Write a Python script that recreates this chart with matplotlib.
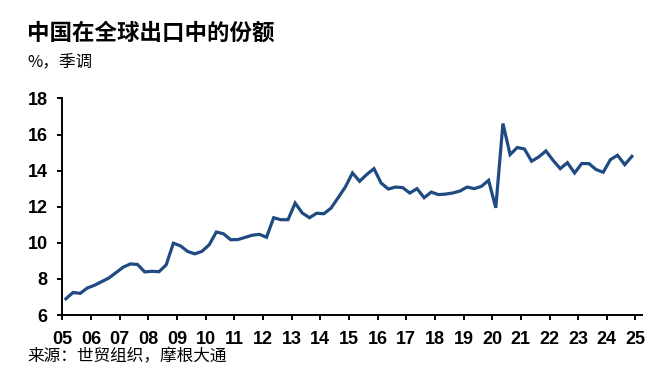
import matplotlib
matplotlib.use("Agg")
import matplotlib.pyplot as plt
import numpy as np

plt.rcParams['font.family'] = ['Noto Sans CJK SC', 'DejaVu Sans']

# quarterly share, 2005Q1 .. 2024Q4
share = [6.90, 7.25, 7.20, 7.50, 7.65, 7.85, 8.05, 8.35,
         8.65, 8.83, 8.80, 8.39, 8.42, 8.40, 8.78, 9.98,
         9.83, 9.52, 9.39, 9.53, 9.89, 10.60, 10.50, 10.17,
         10.18, 10.30, 10.42, 10.47, 10.31, 11.39, 11.28, 11.28,
         12.20, 11.65, 11.39, 11.64, 11.61, 11.92, 12.50, 13.09,
         13.87, 13.41, 13.79, 14.11, 13.31, 12.98, 13.09, 13.06,
         12.76, 13.00, 12.50, 12.81, 12.67, 12.70, 12.76, 12.87,
         13.09, 13.00, 13.13, 13.46, 11.94, 16.61, 14.89, 15.28,
         15.20, 14.52, 14.76, 15.09, 14.57, 14.11, 14.44, 13.87,
         14.39, 14.39, 14.06, 13.91, 14.61, 14.85, 14.33, 14.79]
start_year = 2005
year_labels = ["05", "06", "07", "08", "09", "10", "11", "12", "13", "14",
               "15", "16", "17", "18", "19", "20", "21", "22", "23", "24", "25"]
y_ticks = [6, 8, 10, 12, 14, 16, 18]

fig = plt.figure(figsize=(6.6, 3.8), dpi=100)
ax = fig.add_axes([0.0944, 0.171, 0.878, 0.570])

t = start_year + (np.arange(len(share)) + 0.5) / 4
ax.plot(t, share, color='#1f4a82', lw=2.3, solid_joinstyle='miter')

ax.set_xlim(start_year, start_year + len(year_labels) - 1 + 0.22)
ax.set_ylim(y_ticks[0], y_ticks[-1])
ax.set_xticks([start_year + i for i in range(len(year_labels))])
ax.set_xticklabels(year_labels)
ax.set_yticks(y_ticks)
ax.set_yticklabels([str(v) for v in y_ticks])

for s in ['top', 'right']:
    ax.spines[s].set_visible(False)
for s in ['left', 'bottom']:
    ax.spines[s].set_linewidth(1.4)
ax.tick_params(axis='both', direction='out', length=3.5, width=1.4, colors='black')
ax.tick_params(axis='y', pad=7)
ax.tick_params(axis='x', pad=8)
for lab in ax.get_xticklabels() + ax.get_yticklabels():
    lab.set_family('Liberation Sans')
    lab.set_fontweight('bold')
    lab.set_fontsize(13)

fig.text(0.041, 0.913, "中国在全球出口中的份额", fontsize=16.2, fontweight='bold',
         va='center', ha='left')
fig.text(0.041, 0.837, "%，季调", fontsize=12, va='center', ha='left')
fig.text(0.041, 0.06, "来源：世贸组织，摩根大通", fontsize=12, va='center', ha='left')

fig.savefig("out.png", dpi=100)
